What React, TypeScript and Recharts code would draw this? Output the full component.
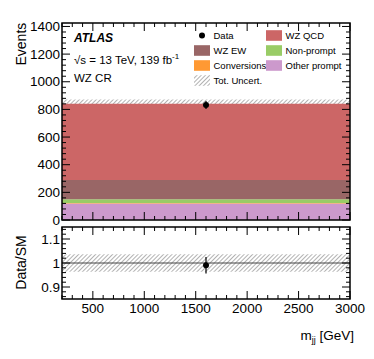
import React from 'react';
import {
  ComposedChart,
  Area,
  Scatter,
  ErrorBar,
  XAxis,
  YAxis,
  ReferenceArea,
  ReferenceLine,
} from 'recharts';

// one m_jj bin, 200 - 3000 GeV
const binEdges = [200, 3000];
const otherPrompt = [120];
const conversions = [3];
const nonPrompt = [28];
const wzEW = [138];
const wzQCD = [551];
const totUncert = [31];

const dataX = [1600];
const dataY = [832];
const dataErr = [29];

const mainTicks = [0, 200, 400, 600, 800, 1000, 1200, 1400];
const ratioTicks = [0.9, 1, 1.1];
const xTicks = [500, 1000, 1500, 2000, 2500, 3000];

const legendLabels = ['Data', 'WZ QCD', 'WZ EW', 'Non-prompt', 'Conversions', 'Other prompt', 'Tot. Uncert.'];

const COLORS = {
  qcd: '#cc6666',
  ew: '#996666',
  conv: '#ff9933',
  np: '#99cc66',
  other: '#cc99cc',
};

const FONT = '"Liberation Sans", Arial, Helvetica, sans-serif';
const PLOT_RIGHT = 350;
const Y_MAX = 1425;
const R_MIN = 0.85;
const R_MAX = 1.15;

// build stacked table: one row per bin edge
const stackRows: any[] = [];
binEdges.slice(0, -1).forEach((lo, i) => {
  const total = otherPrompt[i] + conversions[i] + nonPrompt[i] + wzEW[i] + wzQCD[i];
  [lo, binEdges[i + 1]].forEach((m) => {
    stackRows.push({
      m,
      other: otherPrompt[i],
      conv: conversions[i],
      np: nonPrompt[i],
      ew: wzEW[i],
      qcd: wzQCD[i],
      unc: [total - totUncert[i], total + totUncert[i]],
      band: [1 - totUncert[i] / total, 1 + totUncert[i] / total],
    });
  });
});

const totals = otherPrompt.map((v, i) => v + conversions[i] + nonPrompt[i] + wzEW[i] + wzQCD[i]);
const dataPoints = dataX.map((m, i) => ({ m, y: dataY[i], err: dataErr[i] }));
const ratioPoints = dataX.map((m, i) => ({ m, y: dataY[i] / totals[i], err: dataErr[i] / totals[i] }));

const near = (a: number, b: number) => Math.abs(a - b) < 1e-6;
const range = (a: number, b: number, s: number) => {
  const out: number[] = [];
  for (let v = a; v <= b + 1e-9; v += s) out.push(Math.round(v * 1000) / 1000);
  return out;
};

const makeYTick = (majors: number[]) => (props: any) => {
  const { x, y, payload } = props;
  const isMajor = majors.some((m) => near(m, payload.value));
  const len = isMajor ? 8 : 4;
  return (
    <g>
      <line x1={x} y1={y} x2={x + len} y2={y} stroke="#000" strokeWidth={1} />
      <line x1={PLOT_RIGHT} y1={y} x2={PLOT_RIGHT - len} y2={y} stroke="#000" strokeWidth={1} />
      {isMajor && (
        <text x={x - 2} y={y + 4.7} textAnchor="end" fontSize={13.5} fontFamily={FONT} fill="#000">
          {String(payload.value)}
        </text>
      )}
    </g>
  );
};

const makeXTick = (plotTop: number, showLabels: boolean) => (props: any) => {
  const { x, y, payload } = props;
  const isMajor = xTicks.some((m) => near(m, payload.value));
  const len = isMajor ? 8 : 4;
  return (
    <g>
      <line x1={x} y1={y} x2={x} y2={y - len} stroke="#000" strokeWidth={1} />
      <line x1={x} y1={plotTop} x2={x} y2={plotTop + len} stroke="#000" strokeWidth={1} />
      {isMajor && showLabels && (
        <text x={x} y={y + 14} textAnchor="middle" fontSize={13.5} fontFamily={FONT} fill="#000">
          {payload.value}
        </text>
      )}
    </g>
  );
};

const Dot = (props: any) => <circle cx={props.cx} cy={props.cy} r={3} fill="#000" />;

const Hatch = ({ id }: { id: string }) => (
  <defs>
    <pattern id={id} width={3} height={3} patternUnits="userSpaceOnUse" patternTransform="rotate(45)">
      <rect width={3} height={3} fill="#fff" />
      <line x1={0} y1={0} x2={0} y2={3} stroke="#666" strokeWidth={1} />
    </pattern>
  </defs>
);

const areaProps = {
  type: 'linear' as const,
  stroke: 'none',
  fillOpacity: 1,
  isAnimationActive: false,
  dot: false,
  activeDot: false,
};

export default function App() {
  const xMinor = range(200, 3000, 100);
  const yMinor = range(0, 1400, 40);
  const rMinor = range(0.86, 1.14, 0.02);

  // plot areas: main 62..350 x 23..220, ratio 62..350 x 227..299 (page px)
  const mainFill = { top: 23, right: 24, bottom: 12, left: 62 };
  const mainAxes = { top: 23, right: 24, bottom: 10, left: 0 };
  const ratioFill = { top: 5, right: 24, bottom: 60, left: 62 };
  const ratioAxes = { top: 5, right: 24, bottom: 30, left: 0 };

  const legendRows = [
    { y: 35.5, x: 194, kind: 'dot', label: legendLabels[0] },
    { y: 35.5, x: 266, kind: 'box', color: COLORS.qcd, label: legendLabels[1] },
    { y: 50.5, x: 194, kind: 'box', color: COLORS.ew, label: legendLabels[2] },
    { y: 50.5, x: 266, kind: 'box', color: COLORS.np, label: legendLabels[3] },
    { y: 65.5, x: 194, kind: 'box', color: COLORS.conv, label: legendLabels[4] },
    { y: 65.5, x: 266, kind: 'box', color: COLORS.other, label: legendLabels[5] },
    { y: 80.5, x: 194, kind: 'hatch', label: legendLabels[6] },
  ];

  return (
    <div style={{ position: 'absolute', left: 0, top: 0, width: 374, height: 359, background: '#fff', fontFamily: FONT }}>
      {/* main panel: stacked fills */}
      <div style={{ position: 'absolute', left: 0, top: 0 }}>
        <ComposedChart width={374} height={232} data={stackRows} margin={mainFill}>
          <Hatch id="hatchMain" />
          <XAxis dataKey="m" type="number" domain={[200, 3000]} hide allowDataOverflow />
          <YAxis type="number" domain={[0, Y_MAX]} hide allowDataOverflow />
          <Area dataKey="unc" fill="url(#hatchMain)" {...areaProps} />
          <Area dataKey="other" stackId="s" fill={COLORS.other} {...areaProps} />
          <Area dataKey="conv" stackId="s" fill={COLORS.conv} {...areaProps} />
          <Area dataKey="np" stackId="s" fill={COLORS.np} {...areaProps} />
          <Area dataKey="ew" stackId="s" fill={COLORS.ew} {...areaProps} />
          <Area dataKey="qcd" stackId="s" fill={COLORS.qcd} {...areaProps} />
          <Scatter data={dataPoints} dataKey="y" shape={<Dot />} isAnimationActive={false}>
            <ErrorBar dataKey="err" direction="y" width={0} stroke="#000" strokeWidth={1.2} />
          </Scatter>
        </ComposedChart>
      </div>

      {/* main panel: axes and frame on top */}
      <div style={{ position: 'absolute', left: 0, top: 0 }}>
        <ComposedChart width={374} height={232} data={stackRows} margin={mainAxes}>
          <XAxis
            dataKey="m"
            type="number"
            domain={[200, 3000]}
            ticks={xMinor}
            interval={0}
            height={2}
            axisLine={false}
            tickLine={false}
            tickSize={0}
            tickMargin={0}
            tick={makeXTick(23, false)}
            allowDataOverflow
          />
          <YAxis
            type="number"
            domain={[0, Y_MAX]}
            ticks={yMinor}
            interval={0}
            width={62}
            axisLine={false}
            tickLine={false}
            tickSize={0}
            tickMargin={0}
            tick={makeYTick(mainTicks)}
            allowDataOverflow
          />
          <ReferenceArea x1={200} x2={3000} y1={0} y2={Y_MAX} fill="none" stroke="#000" strokeWidth={1.5} ifOverflow="visible" />
        </ComposedChart>
      </div>

      {/* ratio panel: band and points */}
      <div style={{ position: 'absolute', left: 0, top: 222 }}>
        <ComposedChart width={374} height={137} data={stackRows} margin={ratioFill}>
          <Hatch id="hatchRatio" />
          <XAxis dataKey="m" type="number" domain={[200, 3000]} hide allowDataOverflow />
          <YAxis type="number" domain={[R_MIN, R_MAX]} hide allowDataOverflow />
          <Area dataKey="band" fill="url(#hatchRatio)" {...areaProps} />
          <ReferenceLine y={1} stroke="#444" strokeWidth={1} />
          <Scatter data={ratioPoints} dataKey="y" shape={<Dot />} isAnimationActive={false}>
            <ErrorBar dataKey="err" direction="y" width={0} stroke="#000" strokeWidth={1.2} />
          </Scatter>
        </ComposedChart>
      </div>

      {/* ratio panel: axes and frame on top */}
      <div style={{ position: 'absolute', left: 0, top: 222 }}>
        <ComposedChart width={374} height={137} data={stackRows} margin={ratioAxes}>
          <XAxis
            dataKey="m"
            type="number"
            domain={[200, 3000]}
            ticks={xMinor}
            interval={0}
            height={30}
            axisLine={false}
            tickLine={false}
            tickSize={0}
            tickMargin={0}
            tick={makeXTick(5, true)}
            allowDataOverflow
          />
          <YAxis
            type="number"
            domain={[R_MIN, R_MAX]}
            ticks={rMinor}
            interval={0}
            width={62}
            axisLine={false}
            tickLine={false}
            tickSize={0}
            tickMargin={0}
            tick={makeYTick(ratioTicks)}
            allowDataOverflow
          />
          <ReferenceArea x1={200} x2={3000} y1={R_MIN} y2={R_MAX} fill="none" stroke="#000" strokeWidth={1.5} ifOverflow="visible" />
        </ComposedChart>
      </div>

      {/* labels and legend */}
      <svg width={374} height={359} style={{ position: 'absolute', left: 0, top: 0, pointerEvents: 'none' }}>
        <Hatch id="hatchLegend" />
        <text transform="translate(25.6,22.7) rotate(-90)" textAnchor="end" fontSize={14} fontFamily={FONT}>
          Events
        </text>
        <text transform="translate(25.6,262.5) rotate(-90)" textAnchor="middle" fontSize={14} fontFamily={FONT}>
          Data/SM
        </text>
        <text x={354} y={340} textAnchor="end" fontSize={13.5} fontFamily={FONT}>
          m<tspan fontSize={9} dy={3}>jj</tspan>
          <tspan dy={-3}> [GeV]</tspan>
        </text>

        <text x={74} y={42.3} fontSize={12} fontWeight="bold" fontStyle="italic" fontFamily={FONT}>
          ATLAS
        </text>
        <text x={74} y={64} fontSize={11.5} fontFamily={FONT}>
          √s = 13 TeV, 139 fb<tspan fontSize={8} dy={-5}>-1</tspan>
        </text>
        <text x={74} y={81.7} fontSize={11.5} fontFamily={FONT}>
          WZ CR
        </text>

        {legendRows.map((r, i) => (
          <g key={i}>
            {r.kind === 'dot' && <circle cx={r.x + 8} cy={r.y} r={3} fill="#000" />}
            {r.kind === 'box' && <rect x={r.x} y={r.y - 5.3} width={16} height={10.6} fill={r.color} />}
            {r.kind === 'hatch' && <rect x={r.x} y={r.y - 5.3} width={16} height={10.6} fill="url(#hatchLegend)" />}
            <text x={r.x + 19.5} y={r.y + 3.5} fontSize={9.5} fontFamily={FONT}>
              {r.label}
            </text>
          </g>
        ))}
      </svg>
    </div>
  );
}
